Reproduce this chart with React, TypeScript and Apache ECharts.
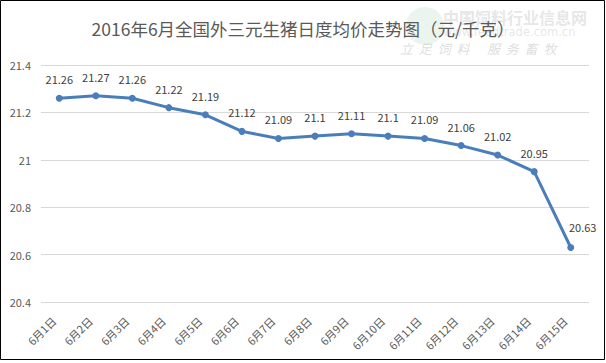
import React, { useEffect, useRef } from "react";
import * as echarts from "echarts";

const categories = ["6月1日","6月2日","6月3日","6月4日","6月5日","6月6日","6月7日","6月8日","6月9日","6月10日","6月11日","6月12日","6月13日","6月14日","6月15日"];
const prices = [21.26, 21.27, 21.26, 21.22, 21.19, 21.12, 21.09, 21.1, 21.11, 21.1, 21.09, 21.06, 21.02, 20.95, 20.63];
const yTicks = { min: 20.4, max: 21.4, interval: 0.2 };

export default function App() {
  const ref = useRef<HTMLDivElement>(null);
  useEffect(() => {
    document.body.style.margin = "0";
    const chart = echarts.init(ref.current!, null, { renderer: "svg" });
    const font = "'Microsoft YaHei', 'Noto Sans CJK SC', sans-serif";
    chart.setOption({
      animation: false,
      backgroundColor: "#ffffff",
      title: {
        text: "2016年6月全国外三元生猪日度均价走势图（元/千克）",
        left: "center",
        top: 13,
        textStyle: { fontSize: 17.5, fontWeight: "normal", color: "#595959", fontFamily: font, lineHeight: 20 },
      },
      graphic: [
        {
          type: "rect",
          shape: { x: 0.5, y: 0.5, width: 604, height: 359 },
          style: { fill: "none", stroke: "#000", lineWidth: 1 },
          silent: true,
        },
        {
          type: "circle",
          shape: { cx: 425, cy: 26, r: 19 },
          style: { fill: "rgba(120,190,140,0.15)" },
          silent: true,
          z: -1,
        },
        {
          type: "text",
          x: 443, y: 8,
          style: {
            text: "{a|中国饲料行业信息网}\n{b|www.feedtrade.com.cn}",
            align: "left",
            rich: {
              a: { fill: "rgba(170,170,170,0.3)", fontSize: 16, fontWeight: "bold", fontFamily: "'Noto Sans CJK SC'", lineHeight: 18, color: "rgba(170,170,170,0.3)" },
              b: { fill: "rgba(170,170,170,0.3)", fontSize: 11.5, fontFamily: "'DejaVu Sans'", lineHeight: 12, color: "rgba(170,170,170,0.3)" },
            },
          },
          silent: true,
          z: -1,
        },
        {
          type: "text",
          x: 400, y: 42,
          style: { text: "立  足  饲  料      服  务  畜  牧", fill: "rgba(180,180,180,0.45)", font: "italic 13px 'Noto Sans CJK SC'" },
          silent: true,
          z: -1,
        },
      ],
      grid: { left: 41, right: 17, top: 65, bottom: 61 },
      xAxis: {
        type: "category",
        data: categories,
        boundaryGap: true,
        axisLine: { show: false },
        axisTick: { show: false },
        axisLabel: { rotate: 45, fontSize: 11, color: "#595959", fontFamily: font, margin: 11, interval: 0, padding: [0, 8, 0, 0] },
      },
      yAxis: {
        type: "value",
        min: yTicks.min,
        max: yTicks.max,
        interval: yTicks.interval,
        axisLine: { show: false },
        axisTick: { show: false },
        splitLine: { lineStyle: { color: "#d9d9d9", width: 1 } },
        axisLabel: {
          fontSize: 11,
          color: "#595959",
          fontFamily: font,
          margin: 10,
          formatter: (v: number) => String(parseFloat(v.toFixed(1))),
        },
      },
      series: [
        {
          type: "line",
          data: prices.map((v, i) =>
            i === prices.length - 1
              ? { value: v, label: { offset: [12, -2] } }
              : v
          ),
          symbol: "circle",
          symbolSize: 7,
          lineStyle: { color: "#4a7ebb", width: 3 },
          itemStyle: { color: "#4a7ebb" },
          label: {
            show: true,
            position: "top",
            distance: 10,
            fontSize: 11,
            color: "#404040",
            fontFamily: font,
          },
        },
      ],
    });
    return () => chart.dispose();
  }, []);
  return <div ref={ref} style={{ width: 606, height: 363, position: "absolute", left: 0, top: 0 }} />;
}
